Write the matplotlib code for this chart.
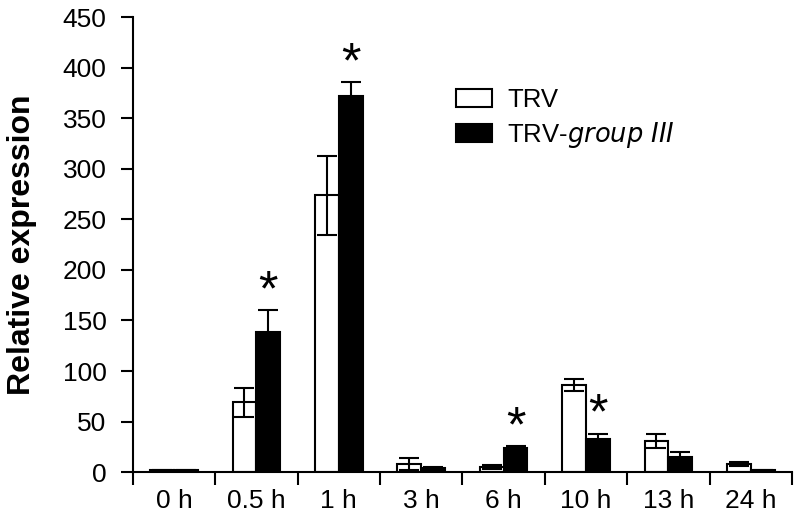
import matplotlib.pyplot as plt
import numpy as np

plt.rcParams['font.family'] = ['Liberation Sans', 'DejaVu Sans']

times = ['0 h', '0.5 h', '1 h', '3 h', '6 h', '10 h', '13 h', '24 h']
trv = [2, 69, 274, 8, 5, 86, 31, 8]
trv_err = [0.5, 14, 39, 6, 2, 6, 7, 2]
grp = [2, 139, 372, 4, 24, 33, 15, 2]
grp_err = [0.5, 21, 14, 1, 2, 5, 5, 0.5]
signif = [False, True, True, False, True, True, False, False]

fig = plt.figure(figsize=(8, 5.2), dpi=100)
ax = fig.add_axes([0.166, 0.092, 0.824, 0.875])

x = np.arange(len(times))
w = 0.29
ax.bar(x - w/2, trv, w, color='white', edgecolor='black', linewidth=1.5,
       yerr=trv_err, capsize=7, error_kw=dict(elinewidth=1.5, capthick=1.5),
       label='TRV')
ax.bar(x + w/2, grp, w, color='black', edgecolor='black', linewidth=1.5,
       yerr=grp_err, capsize=7, error_kw=dict(elinewidth=1.5, capthick=1.5),
       label='TRV-$\\it{group\\ III}$')

for i, s in enumerate(signif):
    if s:
        ax.text(x[i] + w/2, grp[i] + grp_err[i] - 5, '*', ha='center', va='bottom',
                fontsize=36)

ax.set_xlim(-0.5, len(times) - 0.5)
ax.set_ylim(0, 450)
ax.set_yticks(np.arange(0, 451, 50))
ax.set_xticks(np.arange(-0.5, len(times), 1))
ax.set_xticklabels([])
ax.set_xticks(x, minor=True)
ax.set_xticklabels(times, minor=True)
ax.tick_params(axis='x', which='minor', length=0, labelsize=19, pad=12)
ax.tick_params(axis='x', which='major', length=9, width=1.5, direction='out')
ax.tick_params(axis='y', length=9, width=1.5, labelsize=19, direction='out', pad=10)
for sp in ['top', 'right']:
    ax.spines[sp].set_visible(False)
for sp in ['left', 'bottom']:
    ax.spines[sp].set_linewidth(1.5)

ax.set_ylabel('Relative expression', fontsize=23, fontweight='bold', labelpad=18)

ax.legend(loc='upper left', bbox_to_anchor=(0.455, 0.895), frameon=False,
          fontsize=18.5, handlelength=1.4, handleheight=0.7, handletextpad=0.6,
          labelspacing=0.3)

fig.savefig('out.png', dpi=100)
